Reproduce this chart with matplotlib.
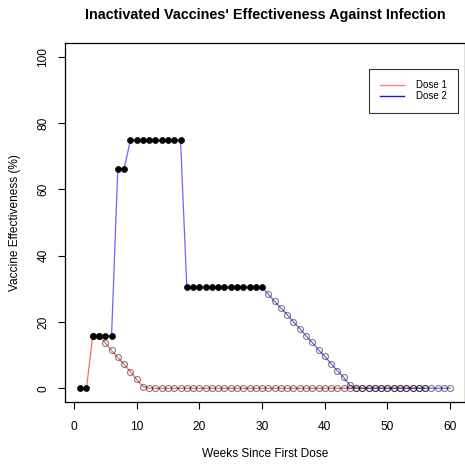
import matplotlib
matplotlib.use("Agg")
import matplotlib.pyplot as plt
from matplotlib.lines import Line2D

plt.rcParams['font.family'] = ['Liberation Sans', 'DejaVu Sans']

# Effectiveness after a single inactivated dose (weeks 1-56)
weeks_dose1 = list(range(1, 57))
dose1 = [0.0, 0.0, 15.8, 15.8, 13.6, 11.4, 9.3, 7.2, 5.0, 2.7, 0.5,
         0, 0, 0, 0, 0, 0, 0, 0, 0, 0, 0, 0, 0, 0, 0, 0, 0, 0, 0,
         0, 0, 0, 0, 0, 0, 0, 0, 0, 0, 0, 0, 0, 0, 0, 0, 0, 0, 0,
         0, 0, 0, 0, 0, 0, 0]
dose1_observed = 3  # first weeks backed by study estimates

# Effectiveness after the second dose (weeks 3-60)
weeks_dose2 = list(range(3, 61))
dose2 = [15.8, 15.8, 15.8, 15.8,
         66.2, 66.2,
         74.7, 74.7, 74.7, 74.7, 74.7, 74.7, 74.7, 74.7, 74.7,
         30.5, 30.5, 30.5, 30.5, 30.5, 30.5, 30.5, 30.5, 30.5, 30.5, 30.5, 30.5, 30.5,
         28.3, 26.2, 24.2, 22.2, 20.0, 18.0, 15.8, 13.8, 11.6, 9.6, 7.4, 5.3, 3.3, 0.9,
         0, 0, 0, 0, 0, 0, 0, 0, 0, 0, 0, 0, 0, 0, 0, 0]
dose2_observed = 28  # weeks 3-30

x_ticks = [0, 10, 20, 30, 40, 50, 60]
y_ticks = [0, 20, 40, 60, 80, 100]

W, H = 465, 466
fig = plt.figure(figsize=(W / 100, H / 100), dpi=100)
left, right, top, bottom = 65.4, 465.0, 43.3, 401.5
ax = fig.add_axes([left / W, 1 - bottom / H, (right - left) / W, (bottom - top) / H])

red = (1.0, 0.0, 0.0, 0.6)
blue = (0.0, 0.0, 1.0, 0.6)
ms = 4.3

ax.plot(weeks_dose1, dose1, color=red, lw=0.9, zorder=2)
ax.plot(weeks_dose2, dose2, color=blue, lw=0.9, zorder=3)

# projected (hollow) points
ax.plot(weeks_dose1[dose1_observed:], dose1[dose1_observed:], ls='none', marker='o',
        ms=ms, mfc='none', mec=(0, 0, 0, 0.5), mew=0.8, zorder=4)
ax.plot(weeks_dose2[dose2_observed:], dose2[dose2_observed:], ls='none', marker='o',
        ms=ms, mfc='none', mec=(0, 0, 0, 0.5), mew=0.8, zorder=4)

# observed (filled) points
ax.plot(weeks_dose1[:dose1_observed], dose1[:dose1_observed], ls='none', marker='o',
        ms=ms, mfc='black', mec='black', mew=0.5, zorder=5)
ax.plot(weeks_dose2[:dose2_observed], dose2[:dose2_observed], ls='none', marker='o',
        ms=ms, mfc='black', mec='black', mew=0.5, zorder=5)

ax.set_xlim(-1.36, 62.36)
ax.set_ylim(-4, 104)
ax.set_xticks(x_ticks)
ax.set_yticks(y_ticks)
ax.set_yticklabels([str(v) for v in y_ticks], rotation=90, va='center')
ax.tick_params(axis='both', length=5, width=0.8, labelsize=8.6, color='black')
ax.tick_params(axis='x', pad=8.7)
ax.tick_params(axis='y', pad=6.5)
for sp in ax.spines.values():
    sp.set_linewidth(0.9)
    sp.set_color('black')

fig.text(((left + right) / 2) / W, 1 - 15 / H,
         "Inactivated Vaccines' Effectiveness Against Infection",
         ha='center', va='center', fontsize=10.4, fontweight='bold')
fig.text(((left + right) / 2) / W, 1 - 454 / H, "Weeks Since First Dose",
         ha='center', va='center', fontsize=8.6)
fig.text(15 / W, 1 - ((top + bottom) / 2) / H, "Vaccine Effectiveness (%)",
         ha='center', va='center', rotation=90, fontsize=8.6)

handles = [Line2D([], [], color=(1.0, 0.0, 0.0, 0.5), lw=1.0),
           Line2D([], [], color=(0.0, 0.0, 0.8, 0.9), lw=1.0)]
leg = ax.legend(handles, ['Dose 1', 'Dose 2'], loc='upper right',
                bbox_to_anchor=((458 - left) / (right - left), 1 - (69.3 - top) / (bottom - top)),
                fontsize=7.0, frameon=True, fancybox=False, borderpad=1.15,
                handlelength=2.5, handletextpad=1.2, labelspacing=0.1,
                borderaxespad=0)
leg.get_frame().set_edgecolor('black')
leg.get_frame().set_linewidth(0.8)

fig.savefig('out.png', dpi=100)
